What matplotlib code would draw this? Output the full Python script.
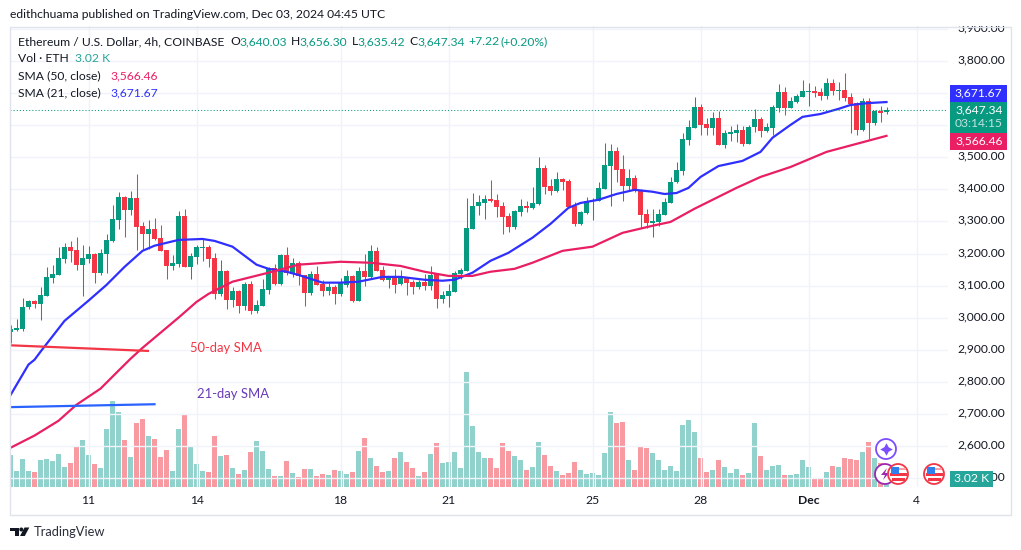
import numpy as np
import matplotlib
matplotlib.use('Agg')
import matplotlib.pyplot as plt
from matplotlib.lines import Line2D
from matplotlib.patches import Circle, Polygon, Rectangle
from matplotlib.transforms import Affine2D, ScaledTranslation

# 4h candles, oldest first
opens = [2952, 2960, 2964, 3030, 3050, 3039, 3067, 3122, 3132, 3181,
         3218, 3209, 3162, 3181, 3197, 3138, 3197, 3237, 3302, 3374,
         3334, 3371, 3284, 3259, 3274, 3246, 3209, 3159, 3166, 3315,
         3156, 3187, 3215, 3218, 3184, 3072, 3144, 3054, 3082, 3035,
         3103, 3019, 3035, 3085, 3153, 3103, 3194, 3134, 3169, 3131,
         3075, 3134, 3103, 3082, 3094, 3072, 3100, 3128, 3050, 3144,
         3125, 3206, 3147, 3116, 3125, 3103, 3125, 3109, 3094, 3109,
         3097, 3134, 3056, 3066, 3078, 3134, 3144, 3274, 3346, 3355,
         3368, 3364, 3346, 3315, 3280, 3327, 3346, 3340, 3352, 3464,
         3408, 3392, 3430, 3424, 3346, 3290, 3324, 3361, 3361, 3399,
         3470, 3517, 3461, 3408, 3433, 3396, 3321, 3293, 3296, 3318,
         3355, 3420, 3455, 3551, 3588, 3654, 3601, 3588, 3620, 3536,
         3570, 3573, 3582, 3539, 3592, 3616, 3579, 3588, 3651, 3700,
         3651, 3669, 3685, 3700, 3704, 3700, 3688, 3728, 3704, 3707,
         3685, 3666, 3582, 3672, 3604, 3641, 3640.03]
highs = [2976, 2994, 3060, 3054, 3054, 3094, 3155, 3162, 3218, 3231,
         3237, 3250, 3225, 3222, 3199, 3212, 3259, 3349, 3390, 3377,
         3393, 3446, 3296, 3302, 3309, 3287, 3210, 3194, 3330, 3337,
         3200, 3225, 3243, 3225, 3200, 3178, 3146, 3095, 3084, 3110,
         3113, 3054, 3119, 3156, 3166, 3196, 3218, 3184, 3175, 3132,
         3144, 3159, 3116, 3106, 3100, 3123, 3147, 3130, 3156, 3196,
         3224, 3218, 3159, 3128, 3150, 3147, 3126, 3116, 3116, 3134,
         3159, 3136, 3081, 3103, 3144, 3153, 3371, 3386, 3380, 3380,
         3427, 3383, 3358, 3324, 3332, 3368, 3361, 3405, 3498, 3473,
         3430, 3452, 3433, 3430, 3358, 3330, 3374, 3371, 3420, 3542,
         3539, 3529, 3504, 3461, 3442, 3397, 3336, 3336, 3336, 3371,
         3436, 3483, 3573, 3613, 3685, 3663, 3620, 3638, 3641, 3582,
         3595, 3601, 3595, 3598, 3648, 3623, 3604, 3660, 3725, 3716,
         3685, 3694, 3738, 3728, 3719, 3713, 3744, 3741, 3732, 3760,
         3697, 3669, 3682, 3682, 3644, 3657, 3656.30]
lows = [2920, 2955, 2955, 3025, 3029, 2991, 3066, 3105, 3131, 3168,
        3172, 3145, 3066, 3168, 3106, 3131, 3138, 3234, 3274, 3250,
        3318, 3209, 3209, 3211, 3240, 3204, 3119, 3147, 3157, 3155,
        3119, 3166, 3175, 3156, 3057, 3066, 3026, 3032, 3013, 3022,
        3010, 3013, 3034, 3072, 3100, 3101, 3131, 3126, 3100, 3035,
        3069, 3099, 3066, 3069, 3041, 3064, 3095, 3047, 3049, 3097,
        3122, 3142, 3112, 3091, 3075, 3100, 3069, 3072, 3088, 3084,
        3084, 3028, 3044, 3032, 3077, 3118, 3143, 3273, 3318, 3305,
        3358, 3312, 3259, 3265, 3274, 3315, 3327, 3336, 3349, 3383,
        3380, 3389, 3396, 3342, 3284, 3287, 3321, 3302, 3360, 3398,
        3346, 3420, 3361, 3392, 3389, 3277, 3277, 3249, 3284, 3317,
        3354, 3417, 3442, 3536, 3587, 3567, 3567, 3567, 3535, 3526,
        3548, 3545, 3532, 3538, 3576, 3560, 3576, 3567, 3638, 3629,
        3650, 3666, 3684, 3657, 3685, 3676, 3679, 3691, 3676, 3672,
        3573, 3567, 3580, 3554, 3598, 3607, 3635.42]
closes = [2963, 2966, 3032, 3050, 3039, 3069, 3125, 3134, 3184, 3218,
          3206, 3162, 3184, 3197, 3138, 3200, 3240, 3306, 3374, 3334,
          3371, 3281, 3259, 3274, 3242, 3206, 3159, 3169, 3315, 3156,
          3190, 3218, 3218, 3181, 3072, 3144, 3054, 3082, 3035, 3103,
          3019, 3038, 3088, 3153, 3103, 3194, 3138, 3169, 3128, 3075,
          3134, 3100, 3082, 3094, 3072, 3109, 3128, 3050, 3144, 3125,
          3206, 3144, 3116, 3125, 3100, 3125, 3106, 3094, 3109, 3097,
          3131, 3056, 3069, 3081, 3137, 3147, 3277, 3346, 3358, 3368,
          3361, 3343, 3312, 3280, 3330, 3346, 3340, 3355, 3464, 3405,
          3392, 3430, 3420, 3343, 3290, 3327, 3361, 3364, 3402, 3473,
          3517, 3458, 3408, 3433, 3392, 3318, 3293, 3299, 3321, 3358,
          3420, 3458, 3554, 3592, 3654, 3598, 3588, 3620, 3536, 3573,
          3576, 3582, 3539, 3592, 3616, 3579, 3592, 3654, 3700, 3651,
          3672, 3688, 3704, 3704, 3697, 3688, 3728, 3704, 3707, 3682,
          3663, 3582, 3672, 3604, 3641, 3635, 3647.34]
# volume in thousands of ETH
volumes = [32, 16, 28, 16, 15, 27, 28, 26, 33, 20,
           24, 41, 47, 32, 23, 19, 58, 86, 75, 47,
           30, 64, 68, 51, 48, 30, 37, 16, 58, 73,
           41, 23, 16, 15, 51, 31, 32, 19, 13, 17,
           35, 46, 36, 18, 11, 11, 26, 14, 10, 18,
           18, 11, 13, 12, 17, 16, 13, 15, 36, 49,
           29, 21, 15, 16, 29, 35, 25, 19, 11, 15,
           33, 44, 24, 25, 35, 19, 115, 61, 35, 29,
           29, 19, 44, 36, 31, 27, 17, 20, 45, 32,
           21, 16, 12, 14, 25, 17, 13, 14, 12, 34,
           75, 64, 65, 27, 17, 40, 39, 34, 27, 17,
           21, 16, 62, 67, 55, 29, 15, 17, 27, 20,
           14, 18, 12, 14, 64, 31, 17, 21, 22, 12,
           12, 13, 27, 20, 9, 9, 15, 21, 20, 29,
           28, 27, 35, 45, 29, 24, 3.02]

sma21_bars = [0, 3, 4, 5, 9, 13, 16, 19, 22, 24, 28, 32, 34, 37, 41, 43, 46, 48, 52, 55,
              58, 62, 65, 69, 72, 74, 77, 80, 83, 87, 90, 93, 95, 98, 101, 104, 107, 109,
              111, 113, 115, 118, 122, 125, 127, 130, 132, 135, 138, 140, 143, 146]
sma21_vals = [2757, 2852, 2867, 2892, 2988, 3051, 3100, 3156, 3206, 3222, 3240, 3243, 3237,
              3219, 3163, 3150, 3141, 3131, 3107, 3107, 3110, 3125, 3125, 3116, 3113, 3116,
              3138, 3175, 3200, 3247, 3290, 3340, 3355, 3365, 3383, 3396, 3390, 3383, 3386,
              3402, 3436, 3470, 3486, 3514, 3558, 3598, 3623, 3632, 3648, 3660, 3666, 3671.67]
sma50_bars = [0, 4, 8, 11, 15, 18, 20, 22, 25, 28, 31, 33, 37, 43, 48, 55, 60, 65, 69, 73,
              77, 80, 84, 87, 92, 97, 102, 107, 110, 114, 121, 125, 130, 136, 141, 146]
sma50_vals = [2593, 2631, 2677, 2727, 2777, 2833, 2870, 2904, 2951, 2998, 3047, 3072, 3110,
              3138, 3163, 3172, 3169, 3159, 3141, 3128, 3128, 3141, 3150, 3169, 3206, 3219,
              3262, 3284, 3296, 3337, 3402, 3436, 3467, 3514, 3539, 3566.46]

note50_bars = [-0.08, 22.9]
note50_vals = [2914.5, 2897]
note21_bars = [-0.08, 24]
note21_vals = [2722, 2731]

date_bars = [13, 31, 55, 73, 97, 115, 133, 151]
date_labels = ['11', '14', '18', '21', '25', '28', 'Dec', '4']
price_ticks = np.arange(2500, 4000, 100)

last_close = 3647.34

GREEN = '#089981'
RED = '#f23645'
BLUE21 = '#2f2fff'
PINK50 = '#e91e63'
TEXT = '#131722'
GRID = '#f0f3fa'
FRAME = '#e0e3eb'
VOL_GREEN = '#26a69a'

plt.rcParams['font.family'] = ['Lato', 'DejaVu Sans']

# the candles were read about 2.5 dollars low, the last one comes from the legend
opens = np.array(opens, dtype=float)
highs = np.array(highs, dtype=float)
lows = np.array(lows, dtype=float)
closes = np.array(closes, dtype=float)
sma21_vals = np.array(sma21_vals, dtype=float)
sma50_vals = np.array(sma50_vals, dtype=float)
for arr in (opens, highs, lows, closes, sma21_vals, sma50_vals):
    arr[:-1] += 2.5

W, H = 1021, 550
fig = plt.figure(figsize=(W / 100, H / 100), dpi=100, facecolor='white')
# pixel coordinates, y going down
px = Affine2D().scale(1, -1).translate(0, H)

ax_vol = fig.add_axes([10 / W, (H - 487) / H, 938 / W, 461 / H], zorder=1)
ax = fig.add_axes([10 / W, (H - 487) / H, 938 / W, 461 / H], zorder=2)
ax.patch.set_visible(False)

bars = np.arange(len(closes))
up = closes >= opens
colors = np.where(up, GREEN, RED)
x_left, x_right = -1 / 12, 156.25

# volume pane sits behind the candles
ax_vol.bar(bars, volumes, width=5 / 6, color=np.where(up, VOL_GREEN, RED), alpha=0.5, linewidth=0)
ax_vol.set_xlim(x_left, x_right)
ax_vol.set_ylim(0, 461)
ax_vol.axis('off')

ax.vlines(bars, lows, highs, colors=colors, linewidth=0.75, zorder=3)
ax.bar(bars, np.maximum(np.abs(closes - opens), 1.5), bottom=np.minimum(opens, closes),
       width=5 / 6, color=colors, linewidth=0, zorder=4)

ax.plot(sma21_bars, sma21_vals, color=BLUE21, linewidth=1.6, zorder=5)
ax.plot(sma50_bars, sma50_vals, color=PINK50, linewidth=1.6, zorder=5)
ax.plot(note50_bars, note50_vals, color=RED, linewidth=1.6, zorder=6)
ax.plot(note21_bars, note21_vals, color='#2962ff', linewidth=1.6, zorder=6)
ax.axhline(last_close, color=GREEN, linewidth=0.75, linestyle=(0, (1, 2)), zorder=6)

ax.set_xlim(x_left, x_right)
ax.set_ylim(2473.4, 3908.4)
ax.set_xticks(date_bars)
ax.set_xticklabels(date_labels)
ax.get_xticklabels()[6].set_fontweight('bold')
ax.yaxis.tick_right()
ax.set_yticks(price_ticks)
ax.set_yticklabels([f'{p:,.2f}' for p in price_ticks])
ax.tick_params(axis='both', length=0, labelsize=8.7, labelcolor=TEXT)
ax.tick_params(axis='x', pad=6)
ax.tick_params(axis='y', pad=7)
# price labels sit a little above their grid line
lift = ScaledTranslation(0, 1.5 / 72, fig.dpi_scale_trans)
for t in ax.get_yticklabels():
    t.set_transform(t.get_transform() + lift)
ax.grid(True, color=GRID, linewidth=1)
ax.set_axisbelow(True)
for s in ax.spines.values():
    s.set_visible(False)


def box(x, y, w, h, color, z=10):
    fig.add_artist(Rectangle((x, y), w, h, transform=px, facecolor=color, edgecolor='none', zorder=z))


def label(x, y, s, color=TEXT, size=8.7, z=12, **kw):
    kw.setdefault('va', 'center')
    fig.text(x, y, s, transform=px, color=color, fontsize=size, zorder=z, **kw)


# hides the top of the 3,900 label, as the frame does in the source
box(0, 0, W, 26, 'white', z=8)
fig.add_artist(Rectangle((9.5, 26.5), 1001, 488, transform=px, facecolor='none',
                         edgecolor=FRAME, linewidth=1, zorder=9))

label(10, 15, 'edithchuama published on TradingView.com, Dec 03, 2024 04:45 UTC', size=8.75)

label(18, 41.5, 'Ethereum / U.S. Dollar, 4h, COINBASE')
for x, s, c in [(230, 'O', TEXT), (239, '3,640.03', GREEN), (291, 'H', TEXT), (299.5, '3,656.30', GREEN),
                (351.5, 'L', TEXT), (357.5, '3,635.42', GREEN), (409, 'C', TEXT), (417, '3,647.34', GREEN),
                (468.5, '+7.22', GREEN), (500.5, '(+0.20%)', GREEN)]:
    label(x, 41.5, s, color=c)
label(18, 58.5, 'Vol · ETH')
label(75, 58.5, '3.02 K', color=VOL_GREEN)
label(18, 76, 'SMA (50, close)')
label(110, 76, '3,566.46', color=PINK50)
label(18, 92.5, 'SMA (21, close)')
label(110, 92.5, '3,671.67', color=BLUE21)

label(190, 348, '50-day SMA', color=RED, size=9.4)
label(197, 394, '21-day SMA', color='#673ab7', size=9.4)

# price badges on the right scale
box(950, 85, 57, 17, BLUE21)
box(950, 102, 57, 31, GREEN)
box(950, 133, 57, 17, PINK50)
box(950, 471, 43, 16, VOL_GREEN)
label(1002.5, 92.5, '3,671.67', color='white', ha='right')
label(1002.5, 109.5, '3,647.34', color='white', ha='right')
label(1002.5, 123.5, '03:14:15', color='#bfe5de', ha='right')
label(1002.5, 141, '3,566.46', color='white', ha='right')
label(971.5, 479, '3.02 K', color='white', ha='center')


def flag(cx, cy):
    fig.add_artist(Circle((cx, cy), 10, transform=px, facecolor='white', edgecolor='#f23645', linewidth=1.3, zorder=11))
    box(cx - 7.5, cy - 6.5, 15, 2.5, '#f7a0a8', z=12)
    box(cx - 8.5, cy - 1, 17, 3, '#f23645', z=12)
    box(cx - 6.5, cy + 4, 13, 2.5, '#f23645', z=12)
    box(cx - 7.5, cy - 7, 8, 7, '#2f80ed', z=13)


fig.add_artist(Circle((886, 449), 10, transform=px, facecolor='white', edgecolor='#7c4dff', linewidth=1.3, zorder=10))
fig.add_artist(Line2D([886], [449], transform=px, marker=(4, 1, 0), markersize=9, color='#7c4dff',
                      markeredgewidth=0, zorder=11))
fig.add_artist(Circle((885, 474), 10, transform=px, facecolor='white', edgecolor='#9c27b0', linewidth=1.3, zorder=10))
fig.add_artist(Polygon([(887, 468), (881, 475), (885, 475), (883, 480), (889, 473), (885, 473)], transform=px,
                       facecolor='#9c27b0', edgecolor='none', zorder=10.5))
flag(898, 474)
flag(934, 474)

# logo
fig.add_artist(Polygon([(10, 527.5), (19, 527.5), (19, 536), (14.5, 536), (14.5, 531), (10, 531)], transform=px,
                       facecolor=TEXT, edgecolor='none', zorder=12))
fig.add_artist(Circle((21.3, 529.5), 2, transform=px, facecolor=TEXT, edgecolor='none', zorder=12))
fig.add_artist(Polygon([(24.5, 527.5), (29.3, 527.5), (24.8, 536), (20, 536)], transform=px,
                       facecolor=TEXT, edgecolor='none', zorder=12))
label(33.5, 532, 'TradingView', size=9.3, color='#2a2e39')

fig.savefig('out.png', dpi=100)
